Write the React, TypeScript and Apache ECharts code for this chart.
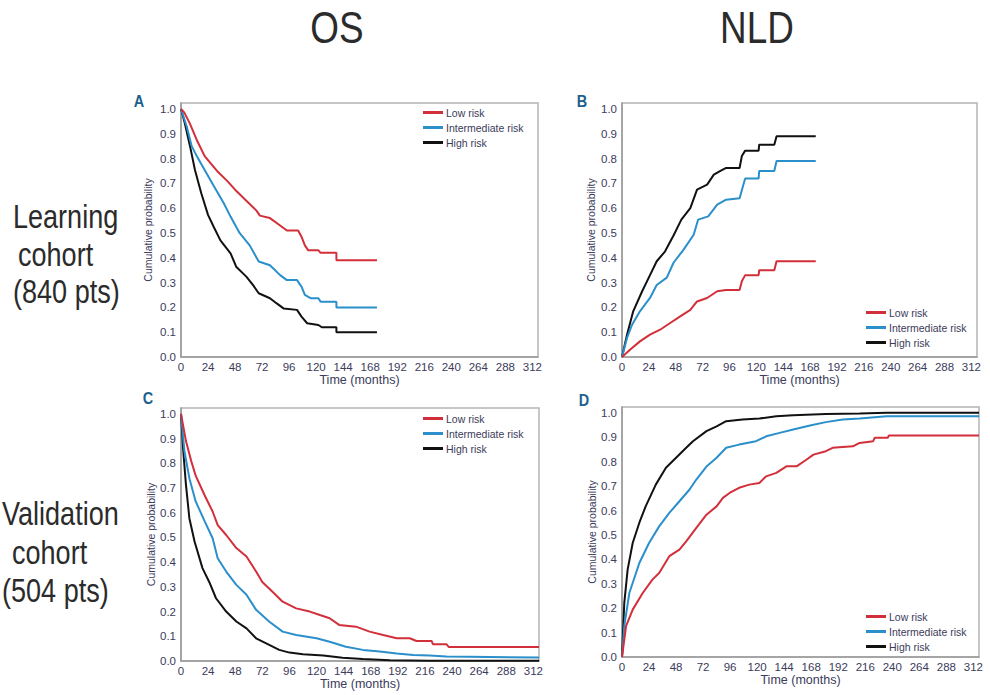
import React, { useEffect, useRef } from "react";
import * as echarts from "echarts";

const FONT = "'Liberation Sans', Arial, sans-serif";

const seriesNames = ["Low risk", "Intermediate risk", "High risk"];
const seriesColors = ["#d22f3a", "#2a8fca", "#111111"];
const xTicks = [0, 24, 48, 72, 96, 120, 144, 168, 192, 216, 240, 264, 288, 312];

// Panel A: OS, learning cohort
const osLearnLow = [[0,1],[3,0.985],[8,0.94],[14,0.875],[21,0.81],[32,0.75],[41,0.71],[49,0.67],[58,0.63],[67,0.59],[70,0.57],[79,0.56],[88,0.53],[94,0.51],[104,0.51],[107,0.485],[110,0.45],[113,0.43],[122,0.43],[124,0.42],[138,0.42],[138,0.39],[174,0.39]];
const osLearnInt = [[0,1],[5,0.93],[9.5,0.85],[14,0.81],[21,0.754],[29,0.69],[38,0.62],[44,0.566],[52,0.5],[61,0.45],[69,0.385],[79,0.37],[88,0.33],[94,0.31],[103,0.31],[107,0.284],[110,0.25],[115,0.237],[122,0.237],[124,0.223],[138,0.223],[138,0.2],[174,0.2]];
const osLearnHigh = [[0,1],[3.5,0.94],[8,0.85],[12.4,0.754],[18,0.66],[24,0.573],[29,0.525],[35,0.47],[44,0.418],[49,0.364],[58,0.324],[64,0.29],[69,0.257],[79,0.237],[85,0.216],[91,0.196],[103,0.19],[107,0.163],[112,0.136],[122,0.129],[125,0.12],[138,0.12],[138,0.1],[174,0.1]];

// Panel B: NLD, learning cohort
const nldLearnLow = [[0,0],[7.4,0.03],[16,0.063],[25,0.09],[34,0.11],[43,0.137],[52,0.164],[61,0.19],[67,0.224],[76,0.238],[85,0.265],[93,0.27],[105,0.27],[107,0.305],[110,0.33],[122,0.33],[122.5,0.35],[136,0.35],[138,0.386],[173,0.386]];
const nldLearnInt = [[0,0],[4.5,0.077],[9,0.13],[16,0.184],[25,0.238],[31,0.29],[40,0.32],[46,0.38],[55,0.433],[64,0.493],[68,0.554],[77,0.567],[85,0.614],[93,0.634],[105,0.64],[108,0.688],[110,0.72],[122,0.72],[122.5,0.75],[136,0.75],[138,0.79],[173,0.79]];
const nldLearnHigh = [[0,0],[4.5,0.09],[10,0.184],[18,0.265],[25,0.33],[31,0.386],[38.5,0.426],[46,0.49],[53,0.554],[61,0.6],[67,0.675],[76,0.695],[82,0.735],[87.5,0.749],[93,0.762],[105,0.762],[107,0.81],[110,0.832],[122,0.832],[122.5,0.856],[136,0.856],[138,0.89],[173,0.89]];

// Panel C: OS, validation cohort
const osValLow = [[0,1],[4.4,0.89],[9,0.81],[13,0.75],[21,0.67],[28,0.605],[32.5,0.55],[40,0.51],[49,0.457],[58,0.423],[66.5,0.362],[72,0.32],[81,0.28],[90,0.24],[102,0.213],[114,0.2],[123,0.186],[131.6,0.173],[140,0.146],[155,0.139],[167,0.119],[179,0.105],[191,0.092],[202.6,0.092],[208.5,0.081],[222,0.081],[223,0.068],[235,0.068],[237,0.057],[317,0.057]];
const osValInt = [[0,1],[3,0.85],[7.4,0.74],[13,0.646],[21,0.565],[28,0.497],[32.5,0.416],[40,0.362],[49,0.308],[58,0.268],[66.5,0.207],[78,0.16],[90,0.119],[102,0.105],[120,0.092],[131.6,0.078],[146,0.058],[161,0.045],[176,0.038],[191,0.03],[205.6,0.024],[220,0.022],[235,0.018],[317,0.014]];
const osValHigh = [[0,1],[2,0.85],[4.4,0.713],[7.4,0.578],[12,0.484],[19,0.376],[25,0.32],[31,0.254],[40,0.2],[49,0.16],[58,0.132],[66.5,0.092],[75,0.072],[87,0.045],[96,0.034],[108,0.027],[126,0.022],[143,0.0135],[161,0.008],[185,0.003],[220,0.001],[317,0.001]];

// Panel D: NLD, validation cohort
const nldValLow = [[0,0],[3.6,0.126],[9.5,0.194],[18.4,0.262],[27,0.317],[33,0.344],[42,0.413],[51,0.44],[57,0.474],[66,0.529],[75,0.583],[84,0.617],[89.6,0.652],[95.5,0.672],[104,0.693],[113,0.706],[122,0.713],[128,0.74],[137,0.754],[146,0.781],[155,0.781],[164,0.809],[170,0.829],[181,0.843],[187,0.857],[205,0.863],[211,0.877],[223,0.884],[224.5,0.898],[236,0.898],[237,0.907],[317,0.907]];
const nldValInt = [[0,0],[2,0.126],[6.5,0.262],[15.4,0.385],[24,0.467],[33,0.535],[42,0.59],[51,0.638],[60,0.686],[66,0.727],[75,0.78],[84,0.816],[92.5,0.857],[104,0.87],[119,0.884],[128,0.904],[140,0.918],[152,0.932],[167,0.948],[181,0.962],[196,0.973],[211,0.977],[235,0.986],[317,0.986]];
const nldValHigh = [[0,0],[2,0.22],[5,0.358],[9.5,0.467],[15.4,0.55],[21,0.617],[30,0.706],[39,0.775],[48,0.816],[57,0.857],[63,0.884],[75,0.925],[84,0.945],[92.5,0.966],[107,0.973],[122,0.977],[137,0.986],[152,0.99],[181,0.995],[211,0.997],[235,1.0],[317,1.0]];

const panelData = [
  [osLearnLow, osLearnInt, osLearnHigh],
  [nldLearnLow, nldLearnInt, nldLearnHigh],
  [osValLow, osValInt, osValHigh],
  [nldValLow, nldValInt, nldValHigh],
];

const grids = [
  { left: 181, top: 103, width: 357, height: 254 },
  { left: 622, top: 103, width: 355, height: 254 },
  { left: 181, top: 408, width: 358, height: 253 },
  { left: 622, top: 407, width: 357, height: 250 },
];
const yNameGaps = [28, 26, 20, 24];
const legendPos = [
  { left: 423, top: 106 },
  { left: 866, top: 306 },
  { left: 423, top: 412 },
  { left: 866, top: 610 },
];
const letters = [
  { t: "A", x: 139, y: 101 },
  { t: "B", x: 582, y: 101 },
  { t: "C", x: 148, y: 398 },
  { t: "D", x: 584, y: 400 },
];

const TICK_COLOR = "#3b3b5a";
const NARROW = 0.82;

export default function App() {
  const ref = useRef<HTMLDivElement>(null);
  useEffect(() => {
    const chart = echarts.init(ref.current!, null, { renderer: "svg" });
    const xAxis = grids.map((_, i) => ({
      type: "value",
      gridIndex: i,
      min: 0,
      max: 317,
      interval: 24,
      name: "Time (months)",
      nameLocation: "middle",
      nameGap: 16,
      nameTextStyle: { fontFamily: FONT, fontSize: 12.5, color: TICK_COLOR },
      axisLine: { show: true, lineStyle: { color: "#9a9a9a", width: 1.5 } },
      axisTick: { show: false },
      splitLine: { show: false },
      axisLabel: {
        fontFamily: FONT,
        fontSize: 11.5,
        color: TICK_COLOR,
        margin: 4,
        showMaxLabel: true,
        formatter: (v: number) => (xTicks.includes(v) ? String(v) : ""),
      },
    }));
    const yAxis = grids.map((_, i) => ({
      type: "value",
      gridIndex: i,
      min: 0,
      max: 1.024,
      interval: 0.1,
      name: "Cumulative probability",
      nameLocation: "middle",
      nameGap: yNameGaps[i],
      nameTextStyle: { fontFamily: FONT, fontSize: 10.5, color: TICK_COLOR },
      axisLine: { show: true, lineStyle: { color: "#9a9a9a", width: 1.5 } },
      axisTick: { show: false },
      splitLine: { show: false },
      axisLabel: {
        fontFamily: FONT,
        fontSize: 11.5,
        color: TICK_COLOR,
        margin: 5,
        formatter: (v: number) => (v <= 1.0001 ? v.toFixed(1) : ""),
      },
    }));
    const series: any[] = [];
    panelData.forEach((panel, gi) => {
      panel.forEach((data, si) => {
        series.push({
          type: "line",
          name: seriesNames[si],
          xAxisIndex: gi,
          yAxisIndex: gi,
          data,
          showSymbol: false,
          symbol: "none",
          lineStyle: { color: seriesColors[si], width: 2 },
          itemStyle: { color: seriesColors[si] },
          z: 3 - si,
        });
      });
    });
    const legend = legendPos.map((p) => ({
      left: p.left,
      top: p.top,
      padding: 0,
      orient: "vertical",
      icon: "rect",
      itemWidth: 20,
      itemHeight: 3,
      itemGap: 2,
      selectedMode: false,
      data: seriesNames,
      textStyle: { fontFamily: FONT, fontSize: 10.5, color: TICK_COLOR, lineHeight: 13, padding: [0, 0, 0, -2] },
    }));
    const textEls: any[] = [];
    const big = (text: string, x: number, y: number, size: number, align: string) =>
      textEls.push({
        type: "text",
        x,
        y,
        scaleX: NARROW,
        style: {
          text,
          fontFamily: FONT,
          fontSize: size,
          fill: "#2b2b2b",
          textAlign: align,
          textVerticalAlign: "middle",
        },
      });
    big("OS", 337, 28, 45, "center");
    big("NLD", 757, 28, 45, "center");
    big("Learning", 13, 217, 33, "left");
    big("cohort", 18, 255, 33, "left");
    big("(840 pts)", 13, 292, 33, "left");
    big("Validation", 2, 514, 33, "left");
    big("cohort", 12, 553, 33, "left");
    big("(504 pts)", 2, 591, 33, "left");
    letters.forEach((l) =>
      textEls.push({
        type: "text",
        x: l.x,
        y: l.y,
        scaleX: 0.85,
        style: {
          text: l.t,
          fontFamily: FONT,
          fontSize: 17,
          fontWeight: "bold",
          fill: "#1d5f8e",
          textAlign: "center",
          textVerticalAlign: "middle",
        },
      })
    );
    chart.setOption({
      animation: false,
      backgroundColor: "#ffffff",
      grid: grids.map((g) => ({ ...g, show: true, borderColor: "#b4b4b4", borderWidth: 1.5, containLabel: false })),
      xAxis,
      yAxis,
      legend,
      series,
      graphic: textEls,
    });
    return () => chart.dispose();
  }, []);
  return (
    <div
      ref={ref}
      style={{ position: "fixed", left: 0, top: 0, width: 990, height: 695, background: "#fff" }}
    />
  );
}
